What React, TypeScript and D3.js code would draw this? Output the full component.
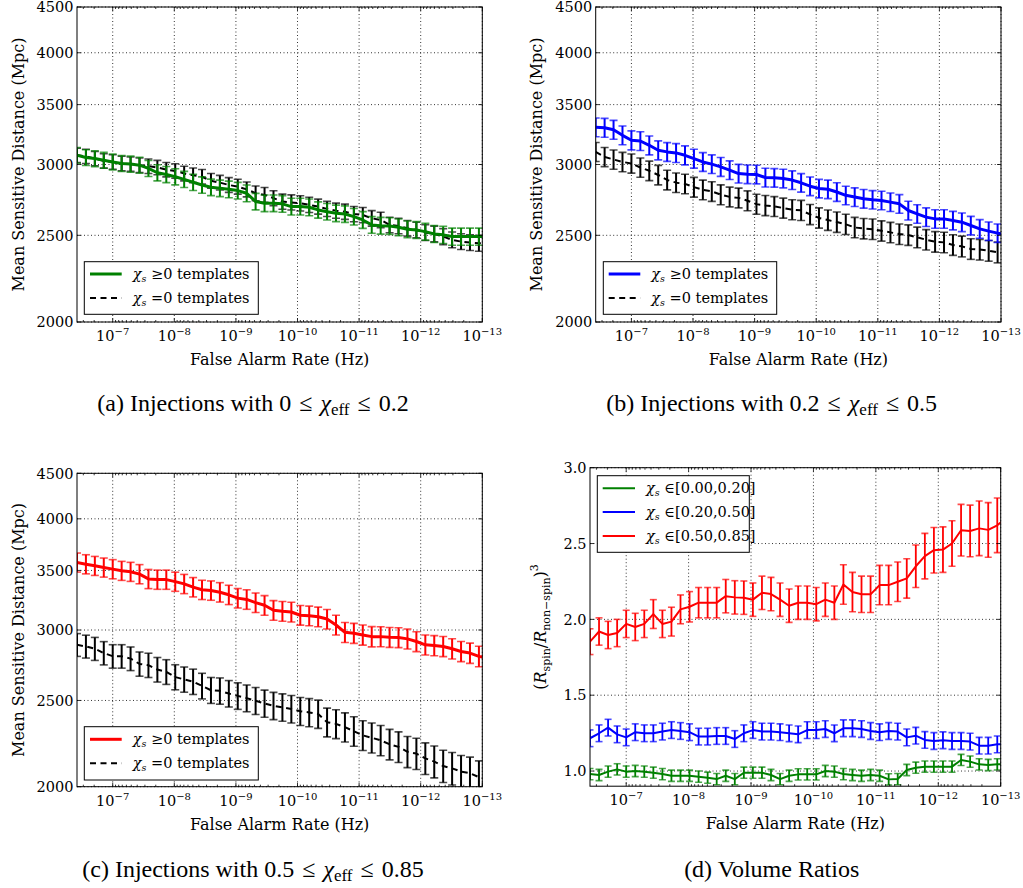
import React from 'react';
import * as d3 from 'd3';

// ---------- data ----------
// log10 of False Alarm Rate (Hz) for each sample
const FAR_EXP = [
  -6.42, -6.565, -6.71, -6.855, -7.0, -7.145, -7.29, -7.435, -7.58, -7.725,
  -7.87, -8.015, -8.16, -8.305, -8.45, -8.595, -8.74, -8.885, -9.03, -9.175,
  -9.32, -9.465, -9.61, -9.755, -9.9, -10.045, -10.19, -10.335, -10.48, -10.625,
  -10.77, -10.915, -11.06, -11.205, -11.35, -11.495, -11.64, -11.785, -11.93, -12.075,
  -12.22, -12.365, -12.51, -12.655, -12.8, -12.945, -13.09,
];

const greenA = [3072, 3054, 3046, 3033, 3020, 3008, 3003, 2995, 2970, 2937, 2924, 2907, 2887, 2866, 2846, 2829, 2822, 2814, 2805, 2786, 2727, 2715, 2715, 2711, 2692, 2692, 2687, 2669, 2657, 2646, 2641, 2623, 2601, 2568, 2563, 2561, 2552, 2539, 2535, 2524, 2509, 2503, 2492, 2492, 2492, 2492, 2492];
const greenErrA = [62, 62, 62, 62, 62, 62, 62, 62, 61, 61, 61, 60, 60, 60, 60, 60, 60, 60, 60, 60, 58, 58, 58, 58, 58, 58, 58, 56, 56, 56, 56, 56, 56, 55, 55, 55, 55, 55, 55, 55, 55, 55, 55, 55, 55, 55, 55];
const blackA = [3072, 3064, 3046, 3028, 3020, 3008, 3003, 2995, 2987, 2977, 2961, 2951, 2931, 2918, 2907, 2877, 2863, 2846, 2834, 2814, 2786, 2774, 2751, 2727, 2721, 2715, 2704, 2692, 2676, 2664, 2657, 2641, 2634, 2612, 2601, 2568, 2561, 2546, 2535, 2518, 2509, 2492, 2471, 2460, 2454, 2450, 2450];
const blackErrA = [56, 56, 56, 56, 56, 56, 56, 56, 56, 55, 55, 55, 55, 55, 55, 54, 54, 54, 54, 54, 53, 53, 53, 53, 53, 53, 53, 52, 52, 52, 52, 52, 52, 52, 52, 51, 51, 51, 51, 51, 51, 51, 50, 50, 50, 50, 50];

const blueB = [3302, 3298, 3281, 3234, 3193, 3187, 3152, 3112, 3099, 3091, 3072, 3046, 3020, 3003, 2982, 2957, 2931, 2926, 2924, 2901, 2899, 2894, 2882, 2862, 2837, 2820, 2815, 2795, 2771, 2759, 2747, 2740, 2735, 2723, 2711, 2665, 2642, 2620, 2608, 2608, 2597, 2586, 2564, 2542, 2527, 2514, 2505];
const blueErrB = [80, 80, 80, 78, 78, 77, 77, 76, 75, 75, 75, 74, 73, 72, 72, 71, 70, 70, 70, 70, 69, 69, 69, 68, 68, 67, 67, 67, 66, 66, 66, 65, 65, 65, 65, 64, 63, 63, 62, 62, 62, 62, 61, 61, 60, 60, 60];
const blackB = [3099, 3059, 3039, 3020, 3008, 2977, 2952, 2920, 2883, 2863, 2854, 2830, 2811, 2799, 2776, 2760, 2753, 2733, 2709, 2700, 2693, 2682, 2671, 2666, 2638, 2615, 2600, 2587, 2572, 2551, 2544, 2540, 2529, 2519, 2508, 2502, 2487, 2472, 2459, 2455, 2439, 2430, 2414, 2410, 2403, 2393, 2385];
const blackErrB = [76, 75, 75, 75, 74, 74, 74, 73, 73, 72, 72, 72, 71, 71, 71, 70, 70, 70, 70, 70, 69, 69, 69, 69, 68, 68, 68, 68, 67, 67, 67, 67, 66, 66, 66, 66, 66, 65, 65, 65, 65, 65, 64, 64, 64, 64, 64];

const redC = [3573, 3557, 3542, 3527, 3512, 3497, 3488, 3467, 3424, 3418, 3418, 3400, 3380, 3352, 3329, 3323, 3308, 3286, 3258, 3247, 3220, 3198, 3157, 3149, 3143, 3117, 3112, 3104, 3086, 3039, 2982, 2975, 2962, 2949, 2949, 2944, 2942, 2932, 2912, 2887, 2882, 2875, 2858, 2838, 2826, 2802, 2790];
const redErrC = [88, 88, 87, 87, 87, 86, 86, 86, 85, 85, 85, 84, 84, 84, 83, 83, 83, 82, 82, 82, 81, 81, 80, 80, 80, 79, 79, 79, 78, 78, 77, 77, 77, 77, 76, 76, 76, 76, 75, 75, 75, 75, 75, 74, 74, 74, 74];
const blackC = [2887, 2875, 2858, 2826, 2803, 2803, 2786, 2748, 2739, 2708, 2692, 2656, 2640, 2625, 2596, 2567, 2563, 2545, 2530, 2515, 2498, 2481, 2466, 2456, 2445, 2431, 2424, 2414, 2363, 2353, 2333, 2309, 2284, 2270, 2255, 2232, 2217, 2189, 2179, 2152, 2134, 2110, 2097, 2080, 2071, 2050, 2040];
const blackErrC = [85, 85, 85, 85, 85, 85, 85, 86, 86, 86, 86, 86, 86, 86, 86, 86, 87, 87, 87, 87, 87, 87, 87, 87, 87, 88, 88, 88, 88, 88, 88, 88, 88, 88, 88, 88, 88, 88, 88, 88, 88, 88, 88, 88, 88, 88, 88];

const redD = [1.853, 1.92, 1.897, 1.91, 1.97, 1.95, 1.97, 2.035, 1.97, 1.985, 2.066, 2.083, 2.11, 2.11, 2.11, 2.153, 2.145, 2.143, 2.13, 2.175, 2.167, 2.13, 2.09, 2.11, 2.11, 2.10, 2.13, 2.11, 2.23, 2.18, 2.165, 2.165, 2.226, 2.226, 2.248, 2.27, 2.35, 2.417, 2.456, 2.46, 2.50, 2.588, 2.583, 2.60, 2.59, 2.62, 2.67];
const redErrD = [0.085, 0.09, 0.09, 0.09, 0.09, 0.09, 0.09, 0.095, 0.09, 0.095, 0.095, 0.10, 0.10, 0.10, 0.10, 0.11, 0.11, 0.11, 0.11, 0.11, 0.11, 0.11, 0.11, 0.11, 0.11, 0.11, 0.11, 0.11, 0.13, 0.13, 0.12, 0.12, 0.13, 0.13, 0.13, 0.13, 0.14, 0.15, 0.15, 0.15, 0.15, 0.17, 0.17, 0.18, 0.18, 0.18, 0.18];
const blueD = [1.216, 1.249, 1.286, 1.242, 1.222, 1.256, 1.249, 1.249, 1.26, 1.27, 1.264, 1.256, 1.227, 1.227, 1.231, 1.231, 1.211, 1.249, 1.27, 1.26, 1.26, 1.256, 1.249, 1.242, 1.27, 1.27, 1.277, 1.249, 1.282, 1.282, 1.277, 1.264, 1.256, 1.264, 1.26, 1.222, 1.233, 1.205, 1.198, 1.203, 1.198, 1.198, 1.194, 1.167, 1.167, 1.176, 1.178];
const blueErrD = [0.055, 0.055, 0.055, 0.055, 0.055, 0.055, 0.055, 0.055, 0.055, 0.055, 0.055, 0.055, 0.055, 0.055, 0.055, 0.055, 0.055, 0.055, 0.055, 0.055, 0.055, 0.055, 0.055, 0.055, 0.055, 0.055, 0.055, 0.055, 0.055, 0.055, 0.055, 0.055, 0.055, 0.055, 0.055, 0.055, 0.055, 0.055, 0.055, 0.055, 0.055, 0.055, 0.055, 0.055, 0.055, 0.055, 0.055];
const greenD = [0.98, 0.974, 0.996, 1.011, 0.996, 1.0, 0.996, 0.989, 0.98, 0.969, 0.969, 0.969, 0.963, 0.956, 0.947, 0.969, 0.947, 0.989, 0.989, 0.989, 0.974, 0.947, 0.969, 0.978, 0.978, 0.978, 1.0, 0.996, 0.98, 0.974, 0.969, 0.974, 0.969, 0.945, 0.947, 1.007, 1.022, 1.029, 1.029, 1.029, 1.029, 1.073, 1.062, 1.044, 1.04, 1.044, 1.044];
const greenErrD = [0.037, 0.037, 0.037, 0.037, 0.037, 0.037, 0.037, 0.037, 0.037, 0.037, 0.037, 0.037, 0.037, 0.037, 0.037, 0.037, 0.037, 0.037, 0.037, 0.037, 0.037, 0.037, 0.037, 0.037, 0.037, 0.037, 0.037, 0.037, 0.037, 0.037, 0.037, 0.037, 0.037, 0.037, 0.037, 0.037, 0.037, 0.037, 0.037, 0.037, 0.037, 0.037, 0.037, 0.037, 0.037, 0.037, 0.037];

const X_DOMAIN = [3.8e-7, 1e-13];
const X_TICK_EXP = [-7, -8, -9, -10, -11, -12, -13];
const DIST_TICKS = [2000, 2500, 3000, 3500, 4000, 4500];
const RATIO_TICKS = [1.0, 1.5, 2.0, 2.5, 3.0];

const GREEN = '#008000';
const BLUE = '#0000ff';
const RED = '#ff0000';
const BLACK = '#000000';

const FONT = "'DejaVu Serif', 'Liberation Serif', serif";
const CAP_FONT = "'Liberation Serif', 'DejaVu Serif', serif";
const REL_SP = '\u2004';

type Series = { vals: number[]; errs: number[]; color: string; lw: number; barW: number; cap: number; dashed?: boolean };
type LegendItem = { color: string; dashed?: boolean; lw: number; kind: 'ge' | 'eq' | 'range'; range?: string };
type PanelDef = {
  id: string; left: number; right: number; top: number; bottom: number;
  yLog: boolean; yDomain: [number, number]; yTicks: number[]; yFmt: (v: number) => string;
  series: Series[]; legend: { x: number; y: number; w: number; h: number; rows: number[]; lineX0: number; lineX1: number; textX: number; items: LegendItem[] };
  yLabelX: number; yLabelKind: 'dist' | 'ratio';
  caption: { x: number; y: number; kind: 'inj' | 'vol'; lo?: string; hi?: string; tag: string };
};

const PANELS: PanelDef[] = [
  {
    id: 'a', left: 77, right: 482.3, top: 7, bottom: 322, yLog: true, yDomain: [2000, 4500], yTicks: DIST_TICKS, yFmt: (v) => String(v),
    series: [
      { vals: blackA, errs: blackErrA, color: BLACK, lw: 2, barW: 2, cap: 4, dashed: true },
      { vals: greenA, errs: greenErrA, color: GREEN, lw: 3, barW: 2, cap: 4 },
    ],
    legend: { x: 84.3, y: 261.7, w: 174, h: 52.6, rows: [274, 298], lineX0: 90, lineX1: 121.7, textX: 132.7,
      items: [{ color: GREEN, lw: 3, kind: 'ge' }, { color: BLACK, lw: 2, dashed: true, kind: 'eq' }] },
    yLabelX: 18.3, yLabelKind: 'dist',
    caption: { x: 253, y: 411, kind: 'inj', tag: '(a)', lo: '0', hi: '0.2' },
  },
  {
    id: 'b', left: 595.7, right: 1001, top: 7, bottom: 322, yLog: true, yDomain: [2000, 4500], yTicks: DIST_TICKS, yFmt: (v) => String(v),
    series: [
      { vals: blackB, errs: blackErrB, color: BLACK, lw: 2, barW: 2, cap: 4, dashed: true },
      { vals: blueB, errs: blueErrB, color: BLUE, lw: 3, barW: 2, cap: 4 },
    ],
    legend: { x: 603.3, y: 261.7, w: 173.4, h: 52.6, rows: [274, 298], lineX0: 608.7, lineX1: 640.3, textX: 651.3,
      items: [{ color: BLUE, lw: 3, kind: 'ge' }, { color: BLACK, lw: 2, dashed: true, kind: 'eq' }] },
    yLabelX: 536.7, yLabelKind: 'dist',
    caption: { x: 771.7, y: 411, kind: 'inj', tag: '(b)', lo: '0.2', hi: '0.5' },
  },
  {
    id: 'c', left: 77, right: 482.3, top: 473.3, bottom: 786.7, yLog: true, yDomain: [2000, 4500], yTicks: DIST_TICKS, yFmt: (v) => String(v),
    series: [
      { vals: blackC, errs: blackErrC, color: BLACK, lw: 2, barW: 2, cap: 4, dashed: true },
      { vals: redC, errs: redErrC, color: RED, lw: 3, barW: 2, cap: 4 },
    ],
    legend: { x: 84.3, y: 726.7, w: 174, h: 53.3, rows: [739.3, 763.3], lineX0: 90, lineX1: 121.7, textX: 132.7,
      items: [{ color: RED, lw: 3, kind: 'ge' }, { color: BLACK, lw: 2, dashed: true, kind: 'eq' }] },
    yLabelX: 18.3, yLabelKind: 'dist',
    caption: { x: 253, y: 877, kind: 'inj', tag: '(c)', lo: '0.5', hi: '0.85' },
  },
  {
    id: 'd', left: 590, right: 1000.7, top: 467.7, bottom: 786.2, yLog: false, yDomain: [0.9, 3.0], yTicks: RATIO_TICKS, yFmt: (v) => v.toFixed(1),
    series: [
      { vals: greenD, errs: greenErrD, color: GREEN, lw: 2, barW: 1.8, cap: 3.5 },
      { vals: blueD, errs: blueErrD, color: BLUE, lw: 2, barW: 1.8, cap: 3.5 },
      { vals: redD, errs: redErrD, color: RED, lw: 2, barW: 1.8, cap: 3.5 },
    ],
    legend: { x: 597.3, y: 475.7, w: 152, h: 76.6, rows: [488.3, 512, 536], lineX0: 602.7, lineX1: 635, textX: 646,
      items: [
        { color: GREEN, lw: 2, kind: 'range', range: '[0.00,0.20]' },
        { color: BLUE, lw: 2, kind: 'range', range: '[0.20,0.50]' },
        { color: RED, lw: 2, kind: 'range', range: '[0.50,0.85]' },
      ] },
    yLabelX: 540, yLabelKind: 'ratio',
    caption: { x: 771.7, y: 877, kind: 'vol', tag: '(d)' },
  },
];

const FAR = FAR_EXP.map((e) => Math.pow(10, e));

function LegendText({ item, x, y }: { item: LegendItem; x: number; y: number }) {
  const rest = item.kind === 'ge' ? ' ≥0 templates' : item.kind === 'eq' ? ' =0 templates' : ' ∈' + item.range;
  return (
    <text x={x} y={y} dy="0.35em" fontFamily={FONT} fontSize={14.5} fill="#000">
      <tspan fontStyle="italic">χ</tspan>
      <tspan fontSize={9.5} fontStyle="italic" dy={3}>s</tspan>
      <tspan dy={-3}>{rest}</tspan>
    </text>
  );
}

function Panel({ p }: { p: PanelDef }) {
  const xs = d3.scaleLog().domain(X_DOMAIN).range([p.left, p.right]);
  const ys = (p.yLog ? d3.scaleLog() : d3.scaleLinear()).domain(p.yDomain).range([p.bottom, p.top]);
  const clipId = 'clip-' + p.id;

  const minor: number[] = [];
  for (let e = -13; e <= -7; e++) {
    for (let m = 2; m <= 9; m++) {
      const v = m * Math.pow(10, e);
      if (v <= X_DOMAIN[0] && v >= X_DOMAIN[1]) minor.push(v);
    }
  }

  const line = d3.line<number>().x((_, i) => xs(FAR[i])).y((v) => ys(v));

  const cx = (p.left + p.right) / 2;
  const cy = (p.top + p.bottom) / 2;

  return (
    <g>
      <defs>
        <clipPath id={clipId}>
          <rect x={p.left} y={p.top} width={p.right - p.left} height={p.bottom - p.top} />
        </clipPath>
      </defs>
      {/* grid */}
      <g stroke="#000" strokeWidth={0.8} strokeDasharray="1,2.5">
        {X_TICK_EXP.map((e) => (
          <line key={'gx' + e} x1={xs(Math.pow(10, e))} x2={xs(Math.pow(10, e))} y1={p.top} y2={p.bottom} />
        ))}
        {p.yTicks.map((t) => (
          <line key={'gy' + t} x1={p.left} x2={p.right} y1={ys(t)} y2={ys(t)} />
        ))}
      </g>
      {/* series */}
      <g clipPath={`url(#${clipId})`}>
        {p.series.map((s, si) => (
          <g key={si}>
            {s.vals.map((v, i) => {
              const x = xs(FAR[i]);
              const y0 = ys(v - s.errs[i]);
              const y1 = ys(v + s.errs[i]);
              return (
                <g key={i}>
                  <line x1={x} x2={x} y1={y0} y2={y1} stroke={s.color} strokeWidth={s.barW} />
                  <line x1={x - s.cap} x2={x + s.cap} y1={y0} y2={y0} stroke={s.color} strokeWidth={1.6} strokeOpacity={0.7} />
                  <line x1={x - s.cap} x2={x + s.cap} y1={y1} y2={y1} stroke={s.color} strokeWidth={1.6} strokeOpacity={0.7} />
                </g>
              );
            })}
            <path d={line(s.vals) || ''} fill="none" stroke={s.color} strokeWidth={s.lw}
              strokeDasharray={s.dashed ? '6,4.5' : undefined} strokeLinejoin="round" />
          </g>
        ))}
      </g>
      {/* frame */}
      <rect x={p.left} y={p.top} width={p.right - p.left} height={p.bottom - p.top} fill="none" stroke="#000" strokeWidth={1} />
      {/* ticks */}
      <g stroke="#000" strokeWidth={0.8}>
        {X_TICK_EXP.map((e) => {
          const x = xs(Math.pow(10, e));
          return (
            <g key={'tx' + e}>
              <line x1={x} x2={x} y1={p.bottom} y2={p.bottom - 4} />
              <line x1={x} x2={x} y1={p.top} y2={p.top + 4} />
            </g>
          );
        })}
        {minor.map((v, i) => {
          const x = xs(v);
          return (
            <g key={'mx' + i}>
              <line x1={x} x2={x} y1={p.bottom} y2={p.bottom - 2} />
              <line x1={x} x2={x} y1={p.top} y2={p.top + 2} />
            </g>
          );
        })}
        {p.yTicks.map((t) => (
          <g key={'ty' + t}>
            <line x1={p.left} x2={p.left + 4} y1={ys(t)} y2={ys(t)} />
            <line x1={p.right} x2={p.right - 4} y1={ys(t)} y2={ys(t)} />
          </g>
        ))}
      </g>
      {/* tick labels */}
      {X_TICK_EXP.map((e) => (
        <text key={'lx' + e} x={xs(Math.pow(10, e))} y={p.bottom + 19} textAnchor="middle" fontFamily={FONT} fontSize={14.5} fill="#000">
          10<tspan fontSize={10} dy={-6}>{'−' + String(-e)}</tspan>
        </text>
      ))}
      {p.yTicks.map((t) => (
        <text key={'ly' + t} x={p.left - 3.5} y={ys(t)} dy="0.36em" textAnchor="end" fontFamily={FONT} fontSize={14.5} fill="#000">
          {p.yFmt(t)}
        </text>
      ))}
      {/* axis labels */}
      <text x={cx} y={p.bottom + 43} textAnchor="middle" fontFamily={FONT} fontSize={16} fill="#000">
        False Alarm Rate (Hz)
      </text>
      {p.yLabelKind === 'dist' ? (
        <text transform={`translate(${p.yLabelX},${cy}) rotate(-90)`} dy="0.35em" textAnchor="middle" fontFamily={FONT} fontSize={16} fill="#000">
          Mean Sensitive Distance (Mpc)
        </text>
      ) : (
        <text transform={`translate(${p.yLabelX},${cy}) rotate(-90)`} dy="0.35em" textAnchor="middle" fontFamily={FONT} fontSize={16} fill="#000">
          (<tspan fontStyle="italic">R</tspan>
          <tspan fontSize={11} dy={4}>spin</tspan>
          <tspan dy={-4}>/</tspan>
          <tspan fontStyle="italic">R</tspan>
          <tspan fontSize={11} dy={4}>non−spin</tspan>
          <tspan dy={-4}>)</tspan>
          <tspan fontSize={11} dy={-8}>3</tspan>
        </text>
      )}
      {/* legend */}
      <g>
        <rect x={p.legend.x} y={p.legend.y} width={p.legend.w} height={p.legend.h} fill="#fff" stroke="#000" strokeWidth={1} />
        {p.legend.items.map((it, i) => (
          <g key={'lg' + i}>
            <line x1={p.legend.lineX0} x2={p.legend.lineX1} y1={p.legend.rows[i]} y2={p.legend.rows[i]} stroke={it.color}
              strokeWidth={it.lw} strokeDasharray={it.dashed ? '6,4.5' : undefined} />
            <LegendText item={it} x={p.legend.textX} y={p.legend.rows[i]} />
          </g>
        ))}
      </g>
      {/* caption */}
      {p.caption.kind === 'inj' ? (
        <text x={p.caption.x} y={p.caption.y} textAnchor="middle" fontFamily={CAP_FONT} fontSize={24} fill="#000">
          {p.caption.tag} Injections with {p.caption.lo}{REL_SP}≤{REL_SP}<tspan fontStyle="italic">χ</tspan>
          <tspan fontSize={17} dy={4}>eff</tspan>
          <tspan dy={-4}>{REL_SP}≤{REL_SP}{p.caption.hi}</tspan>
        </text>
      ) : (
        <text x={p.caption.x} y={p.caption.y} textAnchor="middle" fontFamily={CAP_FONT} fontSize={24} fill="#000">
          {p.caption.tag} Volume Ratios
        </text>
      )}
    </g>
  );
}

export default function App() {
  return (
    <svg width={1023} height={888} viewBox="0 0 1023 888" style={{ position: 'absolute', left: 0, top: 0, background: '#fff' }}>
      <rect x={0} y={0} width={1023} height={888} fill="#fff" />
      {PANELS.map((p) => (
        <Panel key={p.id} p={p} />
      ))}
    </svg>
  );
}
